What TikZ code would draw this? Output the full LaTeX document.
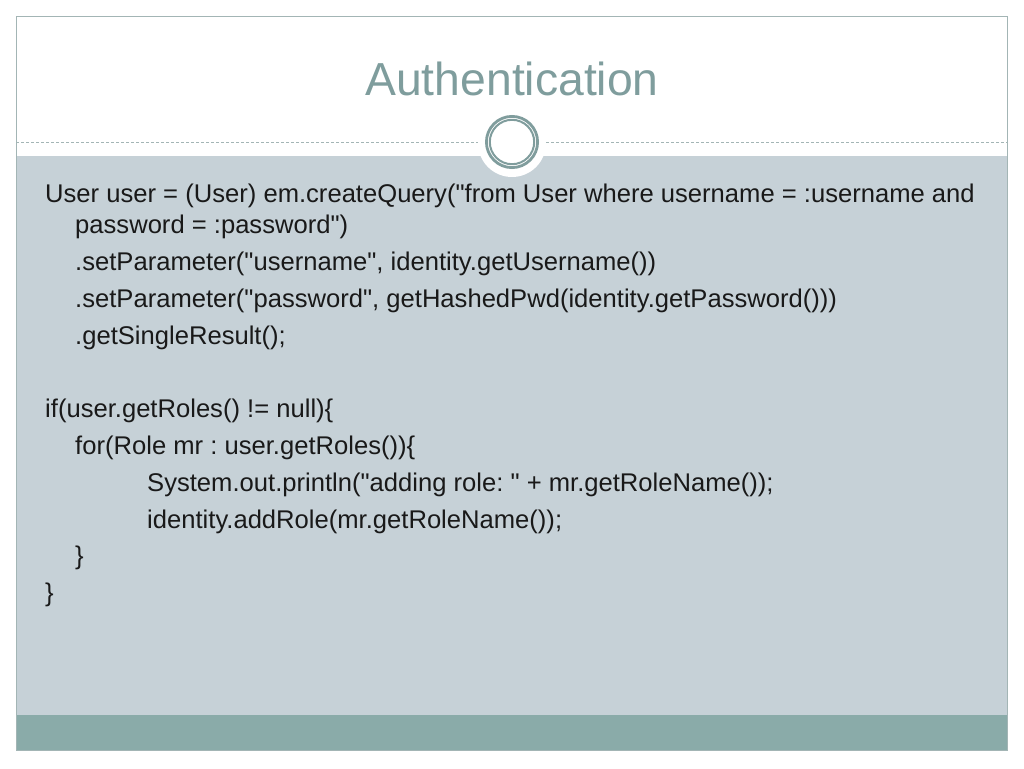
\documentclass[tikz,border=0pt]{standalone}
\usepackage{fontspec}
\setmainfont{Liberation Sans}[Ligatures=TeXOff]
\usetikzlibrary{positioning}
\definecolor{slidegray}{HTML}{C6D1D7}
\definecolor{bandteal}{HTML}{8AABA9}
\definecolor{ringteal}{HTML}{809D9D}
\definecolor{frameline}{HTML}{A3B5B5}
\definecolor{titleteal}{HTML}{7F9D9D}
\frenchspacing

\begin{document}
\begin{tikzpicture}[x=1pt,y=-1pt,
  code/.style={anchor=base west, inner sep=0pt, text=black!90, font=\fontsize{25.6}{30}\selectfont}]
\useasboundingbox (0,0) rectangle (1024,768);
\fill[white] (0,0) rectangle (1024,768);
% slide body and bottom band
\fill[slidegray] (16,156) rectangle (1007,715);
\fill[bandteal] (16,715) rectangle (1007,750);
\draw[frameline] (16,16) rectangle (1007,750);
\draw[frameline, dash pattern=on 3pt off 2pt] (16,142.5) -- (1007,142.5);
% ring under the title
\fill[white] (512,143) circle (34);
\draw[ringteal, line width=2.8pt] (512,142) circle (25.6);
\draw[ringteal, line width=2pt] (512,142) circle (22.2);
\node[anchor=base, inner sep=0pt, text=titleteal, font=\fontsize{46.3}{50}\selectfont] (title) at (512,95) {Authentication};
% code lines
\node[code] (l1) at (45,202) {User user = (User) em.createQuery("from User where username = :username and};
\node[code] (l2) at (75,233) {password = :password")};
\node[code] (l3) at (75,270.5) {.setParameter("username", identity.getUsername())};
\node[code] (l4) at (75,307.3) {.setParameter("password", getHashedPwd(identity.getPassword()))};
\node[code] (l5) at (75,344.1) {.getSingleResult();};
\node[code] (l6) at (45,417.7) {if(user.getRoles() != null)\{};
\node[code] (l7) at (75,454.5) {for(Role mr : user.getRoles())\{};
\node[code] (l8) at (147,491.3) {System.out.println("adding role: " + mr.getRoleName());};
\node[code] (l9) at (147,528.1) {identity.addRole(mr.getRoleName());};
\node[code] (l10) at (75,564.9) {\}};
\node[code] (l11) at (45,601.7) {\}};
\end{tikzpicture}
\end{document}
